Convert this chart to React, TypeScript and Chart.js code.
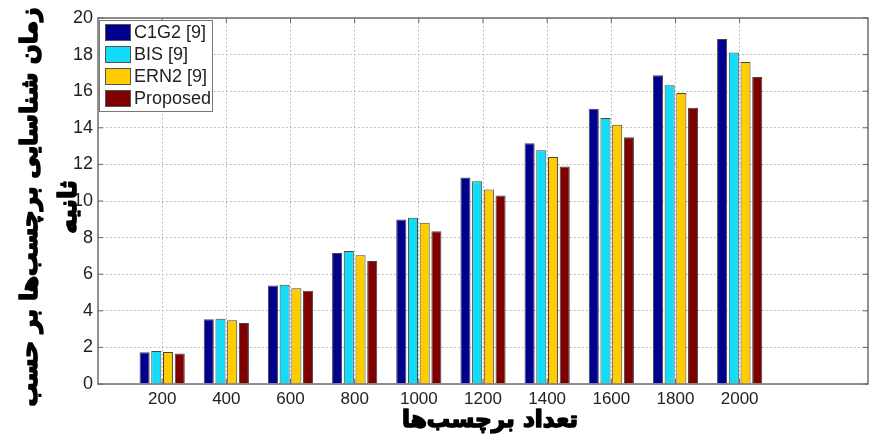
import { useEffect, useRef } from 'react';
import { Chart, registerables } from 'chart.js';

Chart.register(...registerables);

const categories = [200, 400, 600, 800, 1000, 1200, 1400, 1600, 1800, 2000];
const c1g2 = [1.74, 3.54, 5.38, 7.16, 8.99, 11.29, 13.15, 15.04, 16.87, 18.85];
const bis = [1.8, 3.57, 5.43, 7.27, 9.09, 11.08, 12.77, 14.54, 16.32, 18.12];
const ern2 = [1.75, 3.48, 5.23, 7.03, 8.81, 10.63, 12.4, 14.16, 15.9, 17.6];
const proposed = [1.66, 3.33, 5.1, 6.72, 8.35, 10.3, 11.89, 13.48, 15.1, 16.78];

const seriesLabels = ['C1G2 [9]', 'BIS [9]', 'ERN2 [9]', 'Proposed'];
const seriesColors = ['#00008F', '#12DCF8', '#FFCC00', '#7F0000'];
const yTitleLines = ['زمان شناسایی برچسب‌ها بر حسب', 'ثانیه'];
const xTitle = 'تعداد برچسب‌ها';

const tickFont = '"Liberation Sans", Arial, sans-serif';
const titleFont = '"DejaVu Sans", "Noto Sans", sans-serif';

function fitFont(ctx: CanvasRenderingContext2D, text: string, base: number, target: number) {
  ctx.font = 'bold ' + base + 'px ' + titleFont;
  const w = ctx.measureText(text).width;
  const size = Math.min(base, (base * target) / w);
  return 'bold ' + size.toFixed(1) + 'px ' + titleFont;
}

function heavyText(ctx: CanvasRenderingContext2D, text: string, x: number, y: number) {
  ctx.lineWidth = 1.6;
  ctx.strokeStyle = '#000';
  ctx.lineJoin = 'round';
  ctx.strokeText(text, x, y);
  ctx.fillText(text, x, y);
}

const decorPlugin = {
  id: 'decor',
  afterDraw(chart: any) {
    const { ctx, chartArea } = chart;
    const { left, right, top, bottom } = chartArea;
    const xs = chart.scales.x;
    const ys = chart.scales.y;
    ctx.save();
    // frame
    ctx.strokeStyle = '#6e6e6e';
    ctx.lineWidth = 1.5;
    ctx.setLineDash([]);
    ctx.strokeRect(left, top, right - left, bottom - top);
    // inward tick marks
    ctx.lineWidth = 1;
    ctx.strokeStyle = '#666';
    ctx.beginPath();
    ys.ticks.forEach((t: any) => {
      const y = ys.getPixelForValue(t.value);
      ctx.moveTo(left, y);
      ctx.lineTo(left + 5, y);
      ctx.moveTo(right, y);
      ctx.lineTo(right - 5, y);
    });
    xs.ticks.forEach((t: any) => {
      const x = xs.getPixelForValue(t.value);
      ctx.moveTo(x, bottom);
      ctx.lineTo(x, bottom - 5);
      ctx.moveTo(x, top);
      ctx.lineTo(x, top + 5);
    });
    ctx.stroke();

    // legend box
    const lx = left + 1;
    const ly = top + 2;
    const lw = 113;
    const lh = 91;
    ctx.fillStyle = '#ffffff';
    ctx.fillRect(lx, ly, lw, lh);
    ctx.strokeStyle = '#777';
    ctx.lineWidth = 1;
    ctx.strokeRect(lx + 0.5, ly + 0.5, lw, lh);
    ctx.font = '18px ' + tickFont;
    ctx.textBaseline = 'middle';
    ctx.textAlign = 'left';
    chart.data.datasets.forEach((ds: any, i: number) => {
      const cy = ly + 12.5 + i * 22;
      ctx.fillStyle = ds.backgroundColor;
      ctx.fillRect(lx + 6, cy - 8.5, 26, 17);
      ctx.strokeStyle = '#555';
      ctx.strokeRect(lx + 6.5, cy - 8, 25, 16);
      ctx.fillStyle = '#222';
      ctx.fillText(ds.label, lx + 35, cy + 1);
    });

    // y title (rotated, two lines)
    ctx.fillStyle = '#000';
    ctx.textAlign = 'center';
    ctx.textBaseline = 'middle';
    ctx.direction = 'rtl';
    const yFont = fitFont(ctx, yTitleLines[0], 27, 400);
    ctx.save();
    ctx.translate(31, 207);
    ctx.rotate(-Math.PI / 2);
    ctx.font = yFont;
    heavyText(ctx, yTitleLines[0], 0, 0);
    ctx.font = 'bold 25px ' + titleFont;
    heavyText(ctx, yTitleLines[1], 0, 38);
    ctx.restore();

    // x title
    ctx.font = fitFont(ctx, xTitle, 28, 176);
    heavyText(ctx, xTitle, 490, 421);
    ctx.restore();
  },
};

export default function App() {
  const canvasRef = useRef<HTMLCanvasElement | null>(null);

  useEffect(() => {
    document.body.style.margin = '0';
    const canvas = canvasRef.current;
    if (!canvas) return;
    const seriesValues = [c1g2, bis, ern2, proposed];
    const chart = new Chart(canvas, {
      type: 'bar',
      data: {
        datasets: seriesValues.map((vals, i) => ({
          label: seriesLabels[i],
          data: categories.map((c, j) => ({ x: c, y: vals[j] })),
          backgroundColor: seriesColors[i],
          borderColor: '#444',
          borderWidth: 1,
          categoryPercentage: 0.73,
          barPercentage: 0.86,
        })),
      },
      options: {
        animation: false,
        responsive: true,
        maintainAspectRatio: false,
        layout: { padding: { left: 0, right: 1, top: 18, bottom: 0 } },
        plugins: {
          legend: { display: false },
          tooltip: { enabled: false },
        },
        scales: {
          x: {
            type: 'linear',
            min: 0,
            max: 2400,
            offset: false,
            ticks: {
              stepSize: 200,
              padding: 5,
              color: '#222',
              font: { family: tickFont, size: 17 },
              maxRotation: 0,
              callback: (v: any) => String(v),
            },
            grid: { color: '#b0b0b0', lineWidth: 1, drawTicks: false, offset: false },
            border: { display: false, dash: [1.5, 2.5] },
            afterBuildTicks: (scale: any) => {
              scale.ticks = scale.ticks.filter((t: any) => t.value >= 200 && t.value <= 2000);
            },
            afterFit: (scale: any) => {
              scale.height = 53;
            },
          },
          y: {
            min: 0,
            max: 20,
            ticks: {
              stepSize: 2,
              padding: 5,
              color: '#222',
              font: { family: tickFont, size: 18 },
            },
            grid: { color: '#b0b0b0', lineWidth: 1, drawTicks: false },
            border: { display: false, dash: [1.5, 2.5] },
            afterFit: (scale: any) => {
              scale.width = 98;
            },
          },
        },
      },
      plugins: [decorPlugin],
    });
    return () => {
      chart.destroy();
    };
  }, []);

  return (
    <div style={{ position: 'absolute', left: 0, top: 0, width: 869, height: 437, background: '#fff' }}>
      <canvas ref={canvasRef} />
    </div>
  );
}
